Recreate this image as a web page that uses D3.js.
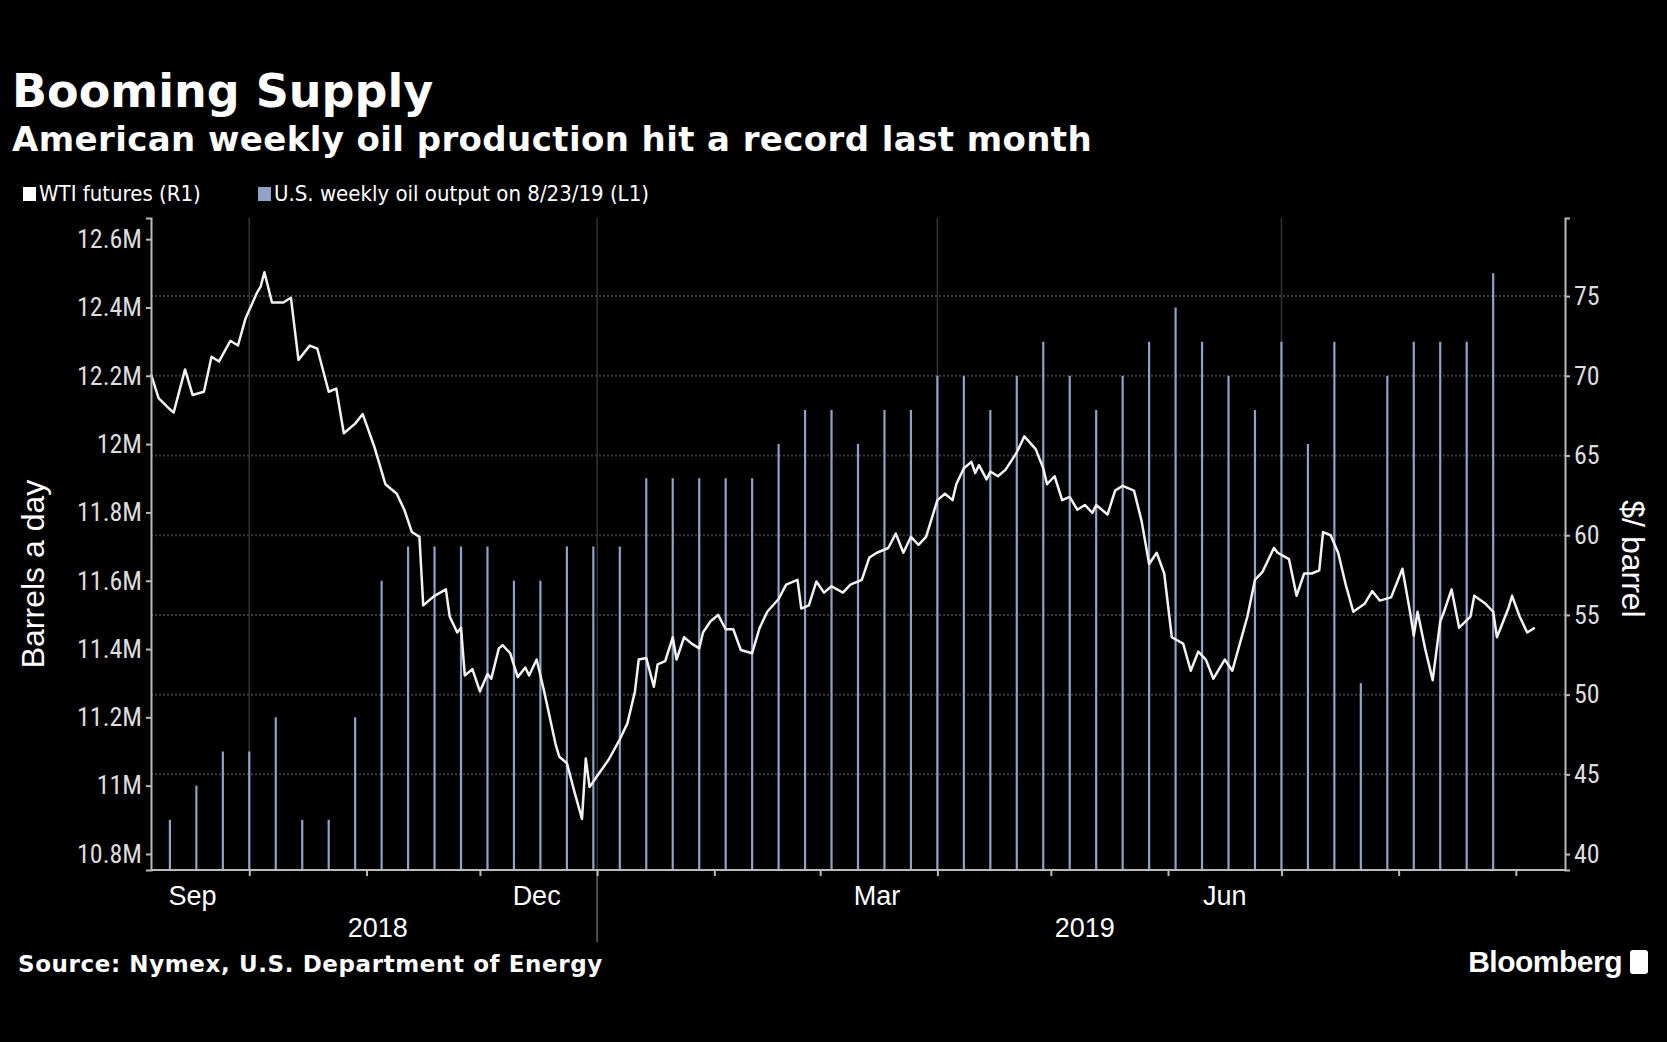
<!DOCTYPE html>
<html><head><meta charset="utf-8">
<script src="https://cdn.jsdelivr.net/npm/d3@7"></script>
<style>
body{margin:0;background:#000;}
text{fill:#fff;}
.tick text{font-family:"Liberation Sans Narrow","Roboto Condensed","Liberation Sans",sans-serif;font-size:26px;fill:#ddd;}
</style></head>
<body><div id="chart"></div>
<script>
// WTI futures: [days since 2018-09-05, $/barrel]
const wti = [[0,70.1],[2,68.6],[5,67.9],[6,67.7],[9,70.4],[11,68.8],[14,69.0],[16,71.2],[18,70.9],[21,72.2],[23,71.9],[25,73.6],[28,75.2],[29,75.6],[30,76.5],[32,74.6],[35,74.6],[37,74.9],[39,71.0],[42,71.9],[44,71.7],[47,69.0],[49,69.2],[51,66.4],[54,67.0],[56,67.6],[59,65.6],[62,63.2],[65,62.6],[67,61.6],[69,60.2],[71,59.9],[72,55.6],[75,56.2],[78,56.6],[79,54.9],[81,53.9],[82,54.2],[83,51.2],[85,51.6],[87,50.2],[89,51.3],[90,51.0],[92,52.9],[93,53.1],[95,52.6],[97,51.1],[99,51.7],[100,51.2],[102,52.2],[104,50.2],[107,46.9],[108,46.1],[110,45.7],[112,43.9],[114,42.2],[115,46.0],[116,44.2],[118,44.9],[121,45.9],[124,47.2],[126,48.2],[128,50.2],[129,52.2],[131,52.3],[133,50.5],[134,51.9],[136,52.1],[138,53.6],[139,52.2],[141,53.6],[143,53.2],[145,52.9],[146,53.9],[148,54.6],[150,55.0],[152,54.1],[154,54.1],[156,52.8],[159,52.6],[161,54.2],[163,55.2],[166,56.0],[168,56.9],[171,57.2],[172,55.4],[174,55.6],[176,57.1],[178,56.4],[180,56.8],[183,56.4],[185,56.9],[188,57.2],[190,58.6],[192,58.9],[195,59.2],[197,60.1],[199,58.9],[201,59.9],[203,59.4],[205,59.9],[208,62.2],[210,62.6],[212,62.2],[213,63.2],[215,64.2],[217,64.6],[218,63.9],[219,64.4],[221,63.5],[222,64.0],[224,63.7],[226,64.1],[229,65.2],[231,66.2],[234,65.4],[236,64.2],[237,63.2],[239,63.7],[241,62.2],[243,62.4],[245,61.6],[247,61.9],[249,61.4],[250,61.9],[253,61.3],[255,62.8],[257,63.1],[260,62.8],[262,60.9],[264,58.2],[266,58.9],[268,57.6],[270,53.6],[273,53.2],[275,51.5],[277,52.7],[279,52.2],[281,51.0],[284,52.2],[286,51.5],[288,53.2],[290,54.9],[292,57.2],[294,57.7],[297,59.2],[298,58.9],[301,58.5],[303,56.2],[305,57.6],[307,57.6],[309,57.8],[310,60.2],[312,60.0],[314,58.9],[316,56.9],[318,55.2],[321,55.7],[323,56.5],[325,55.9],[328,56.1],[331,57.9],[333,55.2],[334,53.7],[335,55.2],[337,52.9],[339,50.9],[341,54.6],[342,55.2],[344,56.6],[346,54.2],[349,54.9],[350,56.2],[353,55.7],[355,55.2],[356,53.6],[359,55.4],[360,56.2],[362,54.9],[364,53.9],[366,54.2]];
// weekly U.S. output (million barrels a day), weekly from 2018-09-10
const output = [10.9,11.0,11.1,11.1,11.2,10.9,10.9,11.2,11.6,11.7,11.7,11.7,11.7,11.6,11.6,11.7,11.7,11.7,11.9,11.9,11.9,11.9,11.9,12.0,12.1,12.1,12.0,12.1,12.1,12.2,12.2,12.1,12.2,12.3,12.2,12.1,12.2,12.3,12.4,12.3,12.2,12.1,12.3,12.0,12.3,11.3,12.2,12.3,12.3,12.3,12.5];
const leftTicks = [10.8,11.0,11.2,11.4,11.6,11.8,12.0,12.2,12.4,12.6];
const rightTicks = [40,45,50,55,60,65,70,75];
const monthLabels = [["2018-09-16","Sep"],["2018-12-16","Dec"],["2019-03-16","Mar"],["2019-06-16","Jun"]];
const yearLabels = [["2018-11-04","2018"],["2019-05-10","2019"]];

const W=1667,H=1042, L=151, R=1565, T=218, B=870;
const start = new Date(2018,8,5);
const svg = d3.select('#chart').append('svg').attr('width',W).attr('height',H)
  .style('font-family','"DejaVu Sans",sans-serif');
svg.append('rect').attr('width',W).attr('height',H).attr('fill','#000');

const x = d3.scaleTime().domain([start,new Date(2018,8,5+374)]).range([L,R]);
const yL = d3.scaleLinear().domain([10.753,12.662]).range([B,T]);
const yR = d3.scaleLinear().domain([39.0,79.9]).range([B,T]);

// grid
svg.append('g').selectAll('line').data(rightTicks.slice(1)).join('line')
  .attr('x1',L).attr('x2',R).attr('y1',d=>yR(d)).attr('y2',d=>yR(d))
  .attr('stroke','#3a3a3a').attr('stroke-width',2).attr('stroke-dasharray','2,2');
const quarters = [new Date(2018,9,1),new Date(2019,0,1),new Date(2019,3,1),new Date(2019,6,1)];
svg.append('g').selectAll('line').data(quarters).join('line')
  .attr('x1',d=>x(d)).attr('x2',d=>x(d)).attr('y1',T).attr('y2',B)
  .attr('stroke','#333').attr('stroke-width',1.5);
svg.append('line').attr('x1',x(quarters[1])).attr('x2',x(quarters[1])).attr('y1',B).attr('y2',B+72)
  .attr('stroke','#666').attr('stroke-width',1.5);

// bars
const barDate = i => d3.timeDay.offset(new Date(2018,8,10),7*i);
svg.append('g').selectAll('line').data(output).join('line')
  .attr('x1',(d,i)=>x(barDate(i))).attr('x2',(d,i)=>x(barDate(i)))
  .attr('y1',B).attr('y2',d=>yL(d)).attr('stroke','#8ea3c6').attr('stroke-width',2.2);

// line
svg.append('path').datum(wti)
  .attr('d',d3.line().x(d=>x(d3.timeDay.offset(start,d[0]))).y(d=>yR(d[1])))
  .attr('fill','none').attr('stroke','#f2f2f2').attr('stroke-width',2.5).attr('stroke-linejoin','round');

// axes
const fmt = d=> (Math.round(d*10)%10===0? d.toFixed(0):d.toFixed(1))+'M';
const gl = svg.append('g').attr('transform',`translate(${L},0)`)
  .call(d3.axisLeft(yL).tickValues(leftTicks).tickFormat(fmt).tickSize(5).tickPadding(4));
const gr = svg.append('g').attr('transform',`translate(${R},0)`)
  .call(d3.axisRight(yR).tickValues(rightTicks).tickSize(5).tickPadding(4));
const gx = svg.append('g').attr('transform',`translate(0,${B})`)
  .call(d3.axisBottom(x).ticks(d3.timeMonth.every(1)).tickFormat('').tickSize(6));
[gl,gr,gx].forEach(g=>{g.selectAll('.domain').attr('stroke','#bbb').attr('stroke-width',2);
  g.selectAll('.tick line').attr('stroke','#bbb').attr('stroke-width',2);});
gx.select('.domain').attr('d',`M${L},0H${R}`);

svg.append('g').selectAll('text').data(monthLabels).join('text')
  .attr('x',d=>x(new Date(d[0]))).attr('y',B+35).attr('text-anchor','middle')
  .attr('font-family','"Liberation Sans Narrow","Liberation Sans",sans-serif').attr('font-size',27).attr('fill','#ddd')
  .text(d=>d[1]);
svg.append('g').selectAll('text').data(yearLabels).join('text')
  .attr('x',d=>x(new Date(d[0]))).attr('y',B+67).attr('text-anchor','middle')
  .attr('font-family','"Liberation Sans Narrow","Liberation Sans",sans-serif').attr('font-size',27).attr('fill','#ddd')
  .text(d=>d[1]);

svg.append('text').attr('transform',`translate(44,${(T+B)/2+30}) rotate(-90)`).attr('text-anchor','middle')
  .attr('font-family','"Liberation Sans Narrow","Liberation Sans",sans-serif').attr('font-size',32).attr('fill','#ddd').text('Barrels a day');
svg.append('text').attr('transform',`translate(1622,${(T+B)/2+15}) rotate(90)`).attr('text-anchor','middle')
  .attr('font-family','"Liberation Sans Narrow","Liberation Sans",sans-serif').attr('font-size',32).attr('fill','#ddd').text('$/ barrel');

// titles
svg.append('text').attr('x',12).attr('y',107).attr('font-size',46).attr('font-weight','bold').text('Booming Supply');
svg.append('text').attr('x',12).attr('y',151).attr('font-size',34).attr('font-weight','bold').attr('letter-spacing','0.4').text('American weekly oil production hit a record last month');
const lg = svg.append('g').attr('font-family','"DejaVu Sans Condensed","DejaVu Sans",sans-serif').attr('font-size',22);
lg.append('rect').attr('x',23).attr('y',187).attr('width',13).attr('height',14).attr('fill','#fff');
lg.append('text').attr('x',39).attr('y',201).attr('fill','#ddd').text('WTI futures (R1)');
lg.append('rect').attr('x',258).attr('y',187).attr('width',13).attr('height',14).attr('fill','#8ea3c6');
lg.append('text').attr('x',274).attr('y',201).attr('fill','#ddd').text('U.S. weekly oil output on 8/23/19 (L1)');

svg.append('text').attr('x',18).attr('y',972).attr('font-size',23).attr('font-weight','bold').attr('letter-spacing','0.6').text('Source: Nymex, U.S. Department of Energy');
svg.append('text').attr('x',1622).attr('y',972).attr('text-anchor','end').attr('font-family','"Liberation Sans",sans-serif')
  .attr('font-size',30).attr('font-weight','bold').attr('letter-spacing','-0.5').text('Bloomberg');
svg.append('rect').attr('x',1630).attr('y',950).attr('width',18).attr('height',24).attr('rx',3).attr('fill','#fff');
</script></body></html>
